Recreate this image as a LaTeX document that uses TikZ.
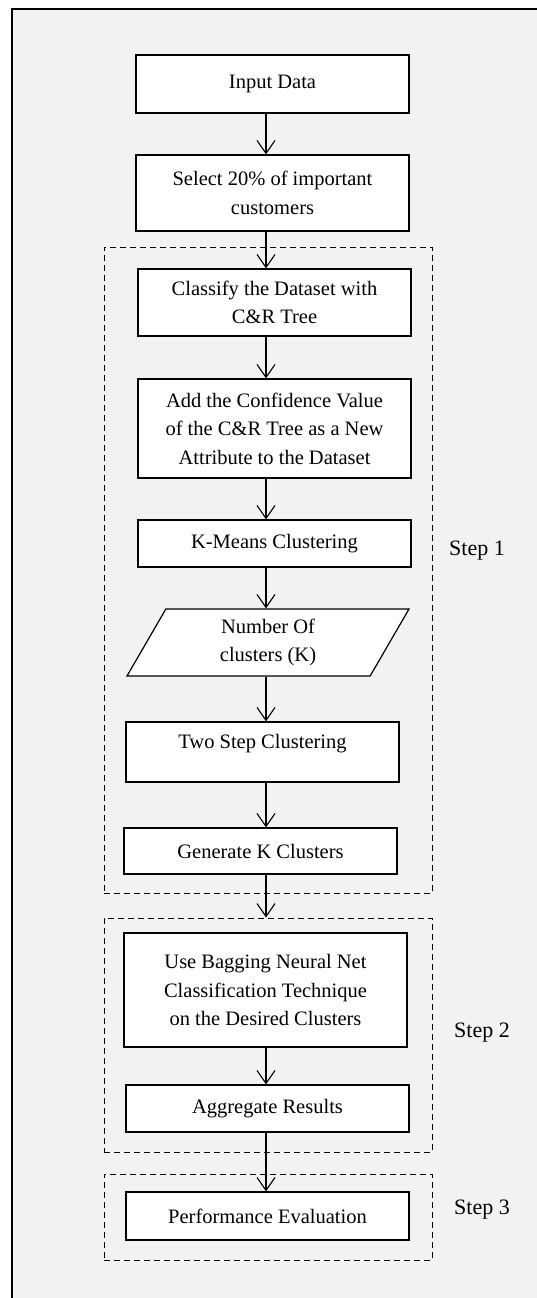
\documentclass[tikz,border=0pt]{standalone}
\usepackage{fontspec}
\setmainfont{Liberation Serif}
\usetikzlibrary{arrows.meta, shapes.geometric, fit}
\definecolor{pagegray}{RGB}{242,242,242}

\begin{document}
\begin{tikzpicture}[
		x=1pt, y=-1pt,
		every node/.style={
				font=\fontsize{20.5}{28.5}\selectfont,
				align=center,
				inner sep=0pt
			},
		proc/.style={draw, fill=white, line width=1.2pt, minimum width=273pt},
		io/.style={
				draw, fill=white, line width=1.2pt,
				trapezium,
				trapezium left angle=50.6,  % slant of the input box
				trapezium right angle=129.4,
				trapezium stretches body,
				minimum width=282pt, minimum height=67pt
			},
		stepbox/.style={draw, dash pattern=on 6pt off 4pt, line width=1pt},
		steplabel/.style={font=\fontsize{22}{26}\selectfont},
		arr/.style={-{Straight Barb[length=13pt, width=18pt]}, line width=1.1pt}
	]
	\useasboundingbox (0,0) rectangle (537,1298);

	% page frame (open at right and bottom)
	\fill[pagegray] (12,9) rectangle (537,1298);
	\draw[line width=1.5pt] (12,1298) -- (12,9) -- (537,9);

	% dashed step regions
	\node[stepbox, fit={(104,247) (432,893)}] (s1) {};
	\node[stepbox, fit={(104,918) (432,1152)}] (s2) {};
	\node[stepbox, fit={(104,1174) (432,1260)}] (s3) {};

	\node[steplabel] (l1) at (477,551) {Step 1};
	\node[steplabel] (l2) at (482,1033) {Step 2};
	\node[steplabel] (l3) at (482,1210) {Step 3};

	% flow boxes
	\node[proc, minimum height=58pt] (in) at (272.5,84) {Input Data};
	\node[proc, minimum height=76pt] (sel) at (272.5,193) {Select 20\% of important\\customers};
	\node[proc, minimum height=67pt] (cls) at (274.5,302.5) {Classify the Dataset with\\C\&R Tree};
	\node[proc, minimum height=99pt] (add) at (274.5,428.5) {Add the Confidence Value\\of the C\&R Tree as a New\\Attribute to the Dataset};
	\node[proc, minimum height=47pt] (km) at (274.5,543.5) {K-Means Clustering};
	\node[io] (num) at (268,642.5) {Number Of\\clusters (K)};
	\node[proc, minimum height=60pt, text depth=22pt] (two) at (262.5,752) {Two Step Clustering}; % text sits high in this box
	\node[proc, minimum height=46pt] (gen) at (260.5,851) {Generate K Clusters};
	\node[proc, minimum width=283pt, minimum height=114pt] (bag) at (265.5,990) {Use Bagging Neural Net\\Classification Technique\\on the Desired Clusters};
	\node[proc, minimum width=283pt, minimum height=47pt] (agg) at (267.5,1108.5) {Aggregate Results};
	\node[proc, minimum width=283pt, minimum height=48pt] (perf) at (267.5,1216) {Performance Evaluation};

	% arrows all run down one vertical line
	\coordinate (ax) at (266,0);
	\draw[arr] (in.south -| ax) -- (sel.north -| ax);
	\draw[arr] (sel.south -| ax) -- (cls.north -| ax);
	\draw[arr] (cls.south -| ax) -- (add.north -| ax);
	\draw[arr] (add.south -| ax) -- (km.north -| ax);
	\draw[arr] (km.south -| ax) -- (num.north -| ax);
	\draw[arr] (num.south -| ax) -- (two.north -| ax);
	\draw[arr] (two.south -| ax) -- (gen.north -| ax);
	\draw[arr] (gen.south -| ax) -- (s2.north -| ax);
	\draw[arr] (bag.south -| ax) -- (agg.north -| ax);
	\draw[arr] (agg.south -| ax) -- (perf.north -| ax);
\end{tikzpicture}
\end{document}
